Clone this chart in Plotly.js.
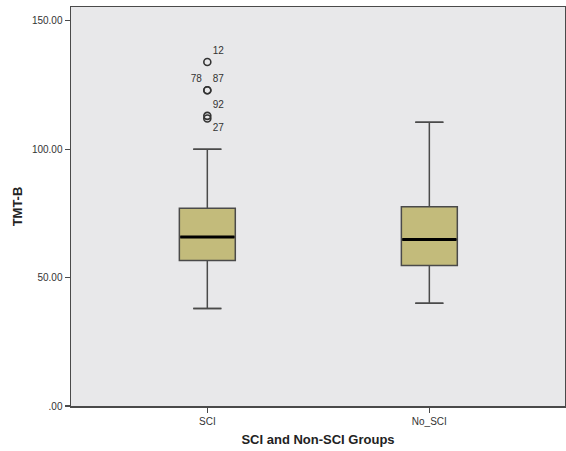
<!DOCTYPE html>
<html>
<head>
<meta charset="utf-8">
<script src="https://cdn.plot.ly/plotly-3.0.1.min.js"></script>
<style>html,body{margin:0;padding:0;background:#fff;}#chart{width:566px;height:451px;}</style>
</head>
<body>
<div id="chart"></div>
<script>
// Data
const groups = ["SCI", "No_SCI"];
const lowerWhisker = [38, 40];
const q1 = [56.7, 54.7];
const median = [65.8, 64.8];
const q3 = [77, 77.6];
const upperWhisker = [100, 110.5];

const outlierGroup = ["SCI", "SCI", "SCI", "SCI", "SCI"];
const outlierValues = [134, 123, 123, 113, 112];
const outlierIds = ["12", "78", "87", "92", "27"];

const yTickVals = [0, 50, 100, 150];
const yTickText = [".00", "50.00", "100.00", "150.00"];

const lineCol = '#4a4a4a';
const boxW = 0.252, capW = 0.127;

const traces = [];
// main boxes
traces.push({
  type: 'box', x: groups, q1: q1, median: median, q3: q3,
  lowerfence: lowerWhisker, upperfence: upperWhisker,
  boxpoints: false, width: boxW,
  fillcolor: '#C3BB7B', line: {color: lineCol, width: 1.5},
  hoverinfo: 'skip', showlegend: false
});
// thick median line
traces.push({
  type: 'box', x: groups, q1: median, median: median, q3: median,
  lowerfence: median, upperfence: median,
  boxpoints: false, width: boxW - 0.008,
  fillcolor: 'rgba(0,0,0,0)', line: {color: '#000', width: 3},
  hoverinfo: 'skip', showlegend: false
});
// whisker caps
[lowerWhisker, upperWhisker].forEach(v => {
  traces.push({
    type: 'box', x: groups, q1: v, median: v, q3: v,
    lowerfence: v, upperfence: v,
    boxpoints: false, width: capW,
    fillcolor: 'rgba(0,0,0,0)', line: {color: lineCol, width: 1.5},
    hoverinfo: 'skip', showlegend: false
  });
});
// outliers
traces.push({
  type: 'scatter', mode: 'markers+text', x: outlierGroup, y: outlierValues,
  text: outlierIds,
  textposition: ['top right', 'top left', 'top right', 'top right', 'bottom right'],
  textfont: {family: 'Liberation Sans, Arial, sans-serif', size: 10, color: '#333'},
  marker: {symbol: 'circle-open', size: 7, color: '#333', line: {width: 1.6, color: '#333'}},
  hoverinfo: 'skip', showlegend: false, cliponaxis: false
});

const layout = {
  width: 566, height: 451,
  margin: {l: 71, r: 1, t: 7, b: 45},
  paper_bgcolor: '#ffffff', plot_bgcolor: '#E8E8EA',
  boxmode: 'overlay', showlegend: false,
  font: {family: 'Liberation Sans, Arial, sans-serif', color: '#333'},
  xaxis: {
    type: 'category', range: [-0.614, 1.611],
    showgrid: false, zeroline: false,
    showline: true, linecolor: lineCol, linewidth: 1.5, mirror: true,
    ticks: 'outside', ticklen: 5, tickcolor: lineCol, tickwidth: 1.2,
    tickfont: {size: 10, color: '#333'},
    title: {text: '<b>SCI and Non-SCI Groups</b>', font: {size: 13, color: '#222'}, standoff: 9}
  },
  yaxis: {
    range: [0, 155.4], showgrid: false, zeroline: false,
    showline: true, linecolor: lineCol, linewidth: 1.5, mirror: true,
    ticks: 'outside', ticklen: 5, tickcolor: lineCol, tickwidth: 1.2,
    tickvals: yTickVals, ticktext: yTickText,
    tickfont: {size: 10, color: '#333'},
    title: {text: '<b>TMT-B</b>', font: {size: 13, color: '#222'}, standoff: 6}
  }
};

Plotly.newPlot('chart', traces, layout, {staticPlot: true, displayModeBar: false});
</script>
</body>
</html>
